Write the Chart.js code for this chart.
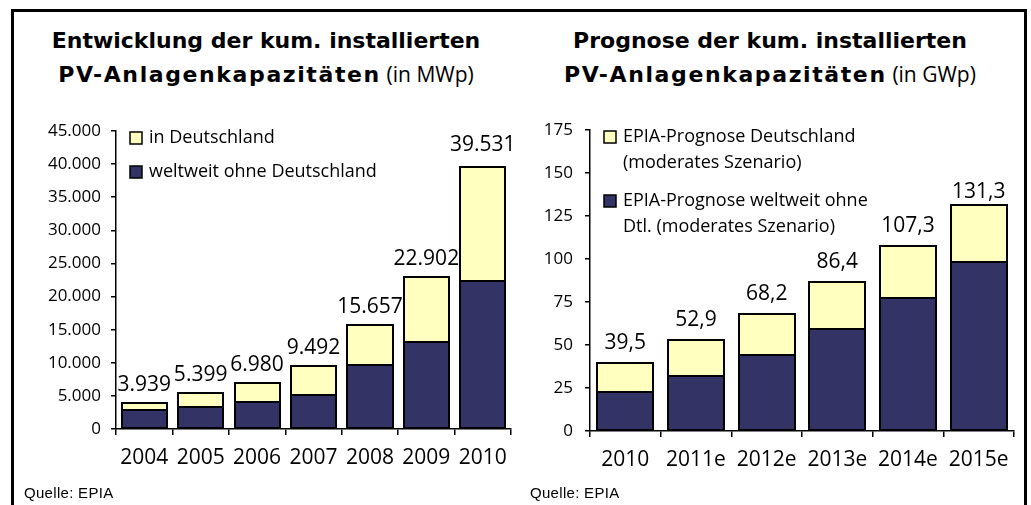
<!DOCTYPE html>
<html lang="de">
<head>
<meta charset="utf-8">
<script src="https://cdn.jsdelivr.net/npm/chart.js@4.4.1/dist/chart.umd.min.js"></script>
<style>
  body { margin: 0; background: #fff; width: 1031px; height: 505px; overflow: hidden; position: relative; font-family: 'Open Sans', sans-serif; }
  #rahmen { position: absolute; left: 11px; top: 9px; width: 1016px; height: 520px; border: 3px solid #000; border-bottom: none; box-sizing: border-box; }
  .titel { position: absolute; top: 23px; width: 500px; font-size: 22px; line-height: 32px; text-align: center; color: #000; white-space: nowrap; }
  .titel b { font-family: 'DejaVu Sans', sans-serif; font-weight: 700; }
  .titel b.breit { letter-spacing: 1.6px; }
  .titel span { font-size: 21px; }
  #t1 { left: 16px; }
  #t2 { left: 520px; }
  .quelle { position: absolute; top: 484px; font-family: 'Liberation Sans', Arial, sans-serif; font-size: 15px; letter-spacing: 0.3px; color: #000; }
  canvas { position: absolute; top: 100px; }
  #links { left: 0; }
  #rechts { left: 520px; }
</style>
</head>
<body>
<div id="rahmen"></div>
<div class="titel" id="t1"><b>Entwicklung der kum. installierten</b><br><b class="breit">PV-Anlagenkapazitäten</b> <span>(in MWp)</span></div>
<div class="titel" id="t2"><b>Prognose der kum. installierten</b><br><b class="breit">PV-Anlagenkapazitäten</b> <span>(in GWp)</span></div>
<canvas id="links" width="520" height="400"></canvas>
<canvas id="rechts" width="507" height="400"></canvas>
<div class="quelle" style="left:24px">Quelle: EPIA</div>
<div class="quelle" style="left:530px">Quelle: EPIA</div>

<script>
// Daten links (MWp)
const jahreLinks = ['2004', '2005', '2006', '2007', '2008', '2009', '2010'];
const weltweitLinks = [2840, 3300, 4080, 5200, 9600, 13150, 22350];
const deutschlandLinks = [1100, 2100, 2900, 4290, 6060, 9750, 17180];
const summenLinks = ['3.939', '5.399', '6.980', '9.492', '15.657', '22.902', '39.531'];
const yTicksLinks = ['0', '5.000', '10.000', '15.000', '20.000', '25.000', '30.000', '35.000', '40.000', '45.000'];
const legendeLinks = [['in Deutschland'], ['weltweit ohne Deutschland']];

// Daten rechts (GWp)
const jahreRechts = ['2010', '2011e', '2012e', '2013e', '2014e', '2015e'];
const weltweitRechts = [22.4, 32.1, 44.4, 59.4, 77.3, 98.0];
const deutschlandRechts = [17.1, 20.8, 23.8, 27.0, 30.0, 33.3];
const summenRechts = ['39,5', '52,9', '68,2', '86,4', '107,3', '131,3'];
const yTicksRechts = ['0', '25', '50', '75', '100', '125', '150', '175'];
const legendeRechts = [
  ['EPIA-Prognose Deutschland', '(moderates Szenario)'],
  ['EPIA-Prognose weltweit ohne', 'Dtl. (moderates Szenario)']
];

const NAVY = '#333366';
const GELB = '#FFFFC0';
const SCHRIFT = "'Open Sans', sans-serif";

// schwarze Umrandung der Balkensegmente (Geometrie aus den Balken-Elementen)
const umrandungPlugin = {
  id: 'umrandung',
  afterDatasetsDraw(chart) {
    const ctx = chart.ctx;
    ctx.save();
    ctx.strokeStyle = '#000';
    ctx.lineWidth = 2;
    chart.data.datasets.forEach((ds, d) => {
      chart.getDatasetMeta(d).data.forEach(bar => {
        const p = bar.getProps(['x', 'y', 'base', 'width'], true);
        const l = Math.round(p.x - p.width / 2);
        const r = Math.round(p.x + p.width / 2);
        const o = Math.round(p.y);
        const u = Math.round(p.base);
        ctx.strokeRect(l, o, r - l, u - o);
      });
    });
    ctx.restore();
  }
};

// Summen über den Balken
const summenPlugin = {
  id: 'summen',
  afterDatasetsDraw(chart, args, opts) {
    const ctx = chart.ctx;
    const meta = chart.getDatasetMeta(chart.data.datasets.length - 1);
    ctx.save();
    ctx.font = '21px ' + SCHRIFT;
    ctx.fillStyle = '#000';
    ctx.textAlign = 'center';
    ctx.textBaseline = 'alphabetic';
    meta.data.forEach((bar, i) => {
      const extra = opts.versatz[i] || 0;
      ctx.fillText(opts.texte[i], bar.x, bar.y - opts.abstand + extra);
    });
    ctx.restore();
  }
};

// Legende oben links im Diagrammbereich
const legendePlugin = {
  id: 'legendeInnen',
  afterDraw(chart, args, opts) {
    const ctx = chart.ctx;
    const area = chart.chartArea;
    const farben = [GELB, NAVY];
    let y = area.top + 7;
    ctx.save();
    ctx.font = '18px ' + SCHRIFT;
    ctx.textBaseline = 'middle';
    ctx.textAlign = 'left';
    opts.eintraege.forEach((zeilen, i) => {
      const sx = Math.round(area.left + 14), sy = Math.round(y - 6);
      ctx.fillStyle = farben[i];
      ctx.fillRect(sx, sy, 12, 12);
      ctx.strokeStyle = '#000';
      ctx.lineWidth = 1.5;
      ctx.strokeRect(sx, sy, 12, 12);
      ctx.fillStyle = '#000';
      zeilen.forEach((z, k) => ctx.fillText(z, area.left + 33, y + k * 26));
      y += zeilen.length * 26 + opts.abstand;
    });
    ctx.restore();
  }
};

function diagramm(id, jahre, welt, de, summen, yTicks, legende, cfg) {
  return new Chart(document.getElementById(id), {
    type: 'bar',
    data: {
      labels: jahre,
      datasets: [
        { label: legende[1].join(' '), data: welt, backgroundColor: NAVY, borderWidth: 0, inflateAmount: 0 },
        { label: legende[0].join(' '), data: de, backgroundColor: GELB, borderWidth: 0, inflateAmount: 0 }
      ]
    },
    options: {
      responsive: false,
      animation: false,
      devicePixelRatio: 1,
      layout: { padding: cfg.padding },
      datasets: { bar: { categoryPercentage: 1, barPercentage: cfg.balken } },
      plugins: {
        legend: { display: false },
        tooltip: { enabled: false },
        summen: { texte: summen, abstand: cfg.labelAbstand, versatz: cfg.versatz },
        legendeInnen: { eintraege: legende, abstand: cfg.legendeAbstand }
      },
      scales: {
        x: {
          stacked: true,
          grid: { drawOnChartArea: false, drawTicks: true, tickLength: 6, color: '#000', lineWidth: 1.5, offset: true },
          border: { color: '#000', width: 1.5 },
          ticks: { color: '#000', font: { family: SCHRIFT, size: 21 }, padding: 10, maxRotation: 0, autoSkip: false },
          afterFit: s => { s.height = 50; }
        },
        y: {
          stacked: true,
          min: 0,
          max: cfg.max,
          grid: { drawOnChartArea: false, drawTicks: true, tickLength: 5, color: '#000', lineWidth: 1.5 },
          border: { color: '#000', width: 1.5 },
          ticks: {
            stepSize: cfg.schritt,
            color: '#000',
            font: { family: SCHRIFT, size: 17 },
            padding: cfg.tickAbstand,
            callback: (v, i) => yTicks[i]
          },
          afterFit: s => { s.width = cfg.yBreite; }
        }
      }
    },
    plugins: [umrandungPlugin, summenPlugin, legendePlugin]
  });
}

diagramm('links', jahreLinks, weltweitLinks, deutschlandLinks, summenLinks, yTicksLinks, legendeLinks, {
  padding: { left: 0, right: 9, top: 31, bottom: 21 },
  yBreite: 116, max: 45000, schritt: 5000, balken: 0.8, labelAbstand: 12, legendeAbstand: 8,
  tickAbstand: 10, versatz: { 6: -4 }
});

diagramm('rechts', jahreRechts, weltweitRechts, deutschlandRechts, summenRechts, yTicksRechts, legendeRechts, {
  padding: { left: 0, right: 13, top: 30, bottom: 19 },
  yBreite: 70, max: 175, schritt: 25, balken: 0.79, labelAbstand: 14, legendeAbstand: 12,
  tickAbstand: 12, versatz: { 5: 7 }
});
</script>
</body>
</html>
